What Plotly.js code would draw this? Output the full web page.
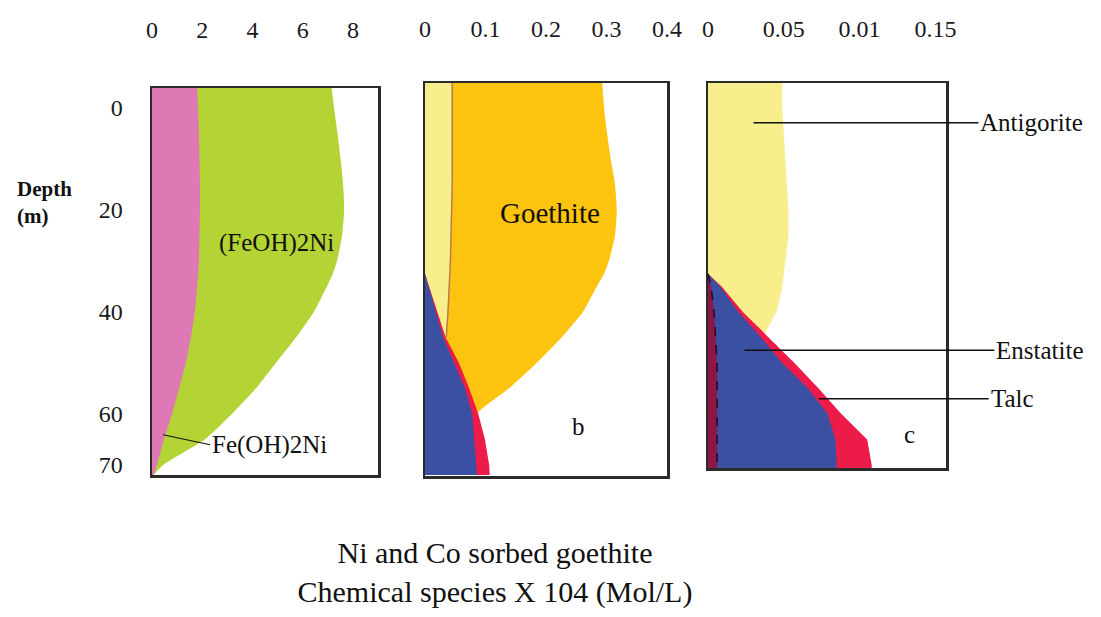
<!DOCTYPE html>
<html>
<head>
<meta charset="utf-8">
<script src="https://cdn.plot.ly/plotly-3.0.1.min.js"></script>
<style>html,body{margin:0;padding:0;background:#fff;}#chart{width:1101px;height:617px;}</style>
</head>
<body>
<div id="chart"></div>
<script>
// Depth (m) samples shared by every profile
const depth = [-5, 0, 5, 10, 15, 20, 25, 30, 32.5, 35, 40, 45, 50, 55, 60, 65, 70, 72];

// Panel a (x 10^4 mol/L, cumulative boundaries)
const feOH2Ni_a   = [1.79, 1.83, 1.87, 1.89, 1.91, 1.91, 1.89, 1.87, 1.84, 1.80, 1.71, 1.55, 1.35, 1.08, 0.80, 0.48, 0.20, 0.06];
const feOH2NiB_a  = [7.13, 7.25, 7.39, 7.51, 7.61, 7.65, 7.57, 7.37, 7.20, 6.97, 6.45, 5.74, 4.94, 4.14, 3.19, 2.11, 0.46, 0.06];

// Panel b
const antigorite_b = [0.045, 0.045, 0.045, 0.045, 0.045, 0.044, 0.043, 0.042, 0.041, 0.040, 0.038, 0.035, 0.045, 0.060, 0.075, 0.075, 0.075, 0.075];
const goethite_b   = [0.293, 0.296, 0.301, 0.307, 0.314, 0.317, 0.314, 0.304, 0.296, 0.284, 0.261, 0.226, 0.185, 0.139, 0.086, 0.075, 0.075, 0.075];
const enstatite_b  = [0, 0, 0, 0, 0, 0, 0, 0, 0, 0.006, 0.018, 0.030, 0.048, 0.066, 0.078, 0.081, 0.084, 0.086];
const talc_b       = [0, 0, 0, 0, 0, 0, 0, 0, 0, 0.007, 0.020, 0.034, 0.056, 0.073, 0.088, 0.099, 0.106, 0.107];

// Panel c
const antigorite_c = [0.049, 0.049, 0.050, 0.051, 0.052, 0.053, 0.053, 0.051, 0.050, 0.049, 0.045, 0.036, 0.030, 0.030, 0.030, 0.030, 0.030, 0.030];
const maroon_c     = [0, 0, 0, 0, 0, 0, 0, 0, 0, 0.002, 0.004, 0.005, 0.006, 0.006, 0.006, 0.006, 0.006, 0.006];
const enstatite_c  = [0, 0, 0, 0, 0, 0, 0, 0, 0, 0.008, 0.020, 0.035, 0.049, 0.066, 0.079, 0.084, 0.085, 0.085];
const talc_c       = [0, 0, 0, 0, 0, 0, 0, 0, 0, 0.009, 0.023, 0.040, 0.057, 0.073, 0.088, 0.105, 0.108, 0.108];

// Tick labels
const ticksA = [0, 2, 4, 6, 8];
const ticksB = [0, 0.1, 0.2, 0.3, 0.4];
const ticksC = [0, 0.05, 0.1, 0.15];
const ticksCText = ['0', '0.05', '0.01', '0.15'];
const depthTicks = [0, 20, 40, 60, 70];

const SERIF = 'Liberation Serif, Times New Roman, serif';
const C = {green:'#b4d334', pink:'#de79b5', yellow:'#f8ee8c', orange:'#fdc40f', blue:'#3b50a3', red:'#ec1b47', maroon:'#8a1745', brown:'#b97a4e'};

// keep only the part of a profile where it is present (from the last zero before it starts)
function present(vals) {
  let s = 0;
  while (s < vals.length - 1 && vals[s + 1] === 0) s++;
  return {x: vals.slice(s), y: depth.slice(s)};
}

function area(vals, xa, ya, color, name, shape, lineOpts) {
  const p = present(vals);
  return {x: p.x, y: p.y, xaxis: xa, yaxis: ya, type: 'scatter', mode: 'lines', name: name,
    fill: 'tozerox', fillcolor: color,
    line: Object.assign({width: 0, color: color, shape: shape || 'spline', smoothing: 0.6}, lineOpts || {}),
    hoverinfo: 'skip'};
}

const idx45 = depth.indexOf(45);
const traces = [
  area(feOH2NiB_a, 'x', 'y', C.green, '(FeOH)2Ni'),
  area(feOH2Ni_a, 'x', 'y', C.pink, 'Fe(OH)2Ni'),

  area(goethite_b, 'x2', 'y2', C.orange, 'Goethite'),
  area(antigorite_b, 'x2', 'y2', C.yellow, 'Antigorite'),
  {x: antigorite_b.slice(0, idx45 + 1), y: depth.slice(0, idx45 + 1), xaxis: 'x2', yaxis: 'y2', type: 'scatter', mode: 'lines',
   line: {color: C.brown, width: 1.5, shape: 'spline', smoothing: 0.6}, hoverinfo: 'skip', name: 'boundary'},
  area(talc_b, 'x2', 'y2', C.red, 'Talc', 'linear'),
  area(enstatite_b, 'x2', 'y2', C.blue, 'Enstatite', 'linear'),

  area(antigorite_c, 'x3', 'y3', C.yellow, 'Antigorite'),
  area(talc_c, 'x3', 'y3', C.red, 'Talc', 'linear'),
  area(enstatite_c, 'x3', 'y3', C.blue, 'Enstatite', 'linear'),
  area(maroon_c, 'x3', 'y3', C.maroon, 'other', 'linear', {width: 1.5, color: '#2a0818', dash: 'dash'})
];

const tickFont = {family: SERIF, size: 24, color: '#1a1a1a'};
function xax(domain, range, tickvals, ticktext, anchor, standoff) {
  return {domain: domain, range: range, side: 'top', anchor: anchor, tickvals: tickvals, ticktext: ticktext,
    ticks: '', showgrid: false, zeroline: false, showline: true, mirror: true, linecolor: '#2b2b2b', linewidth: 2.5,
    tickfont: tickFont, ticklabelstandoff: standoff, fixedrange: true};
}
function yax(domain, range, anchor, show) {
  return {domain: domain, range: range, anchor: anchor, tickvals: depthTicks, showticklabels: show,
    ticks: '', showgrid: false, zeroline: false, showline: true, mirror: true, linecolor: '#2b2b2b', linewidth: 2.5,
    tickfont: tickFont, ticklabelstandoff: 22, fixedrange: true};
}
const W = 1101, H = 617;
const annFont = {family: SERIF, size: 25, color: '#111'};

const layout = {
  width: W, height: H, margin: {l: 0, r: 0, t: 0, b: 0},
  paper_bgcolor: '#fff', plot_bgcolor: 'rgba(0,0,0,0)', showlegend: false,
  title: {text: 'Ni and Co sorbed goethite<br>Chemical species X 104 (Mol/L)', x: 495 / W, xanchor: 'center',
          y: 1 - 563 / H, yanchor: 'middle', font: {family: SERIF, size: 30, color: '#111'}},
  xaxis: xax([152 / W, 378 / W], [0, 9], ticksA, null, 'y', 38),
  yaxis: yax([1 - 475 / H, 1 - 88 / H], [72.0, -3.9], 'x', true),
  xaxis2: xax([425 / W, 667 / W], [0, 0.4], ticksB, null, 'y2', 34),
  yaxis2: yax([1 - 476 / H, 1 - 83 / H], [72.2, -4.9], 'x2', false),
  xaxis3: xax([708 / W, 946 / W], [0, 0.157], ticksC, ticksCText, 'y3', 34),
  yaxis3: yax([1 - 468 / H, 1 - 83 / H], [70.6, -4.9], 'x3', false),
  annotations: [
    {xref: 'paper', yref: 'paper', x: 15 / W, y: 1 - 203 / H, xanchor: 'left', yanchor: 'middle', align: 'left',
     text: '<b>Depth</b><br><b>(m)</b>', showarrow: false, font: {family: SERIF, size: 21, color: '#111'}},
    {xref: 'x', yref: 'y', x: 4.95, y: 26.5, text: '(FeOH)2Ni', showarrow: false, font: annFont},
    {xref: 'x', yref: 'y', x: 0.44, y: 64.1, ax: 47, ay: 10, text: 'Fe(OH)2Ni', xanchor: 'left', showarrow: true,
     arrowhead: 0, arrowwidth: 1.2, arrowcolor: '#111', font: annFont},
    {xref: 'x2', yref: 'y2', x: 0.207, y: 20.6, text: 'Goethite', showarrow: false, font: {family: SERIF, size: 29, color: '#111'}},
    {xref: 'x2', yref: 'y2', x: 0.253, y: 62.5, text: 'b', showarrow: false, font: annFont},
    {xref: 'x3', yref: 'y3', x: 0.133, y: 64.1, text: 'c', showarrow: false, font: annFont},
    {xref: 'x3', yref: 'y3', x: 0.030, y: 2.9, ax: 225, ay: 0, text: 'Antigorite', xanchor: 'left', showarrow: true,
     arrowhead: 0, arrowwidth: 1.5, arrowcolor: '#111', font: annFont},
    {xref: 'x3', yref: 'y3', x: 0.024, y: 47.5, ax: 250, ay: 0, text: 'Enstatite', xanchor: 'left', showarrow: true,
     arrowhead: 0, arrowwidth: 1.5, arrowcolor: '#111', font: annFont},
    {xref: 'x3', yref: 'y3', x: 0.073, y: 57, ax: 170, ay: 0, text: 'Talc', xanchor: 'left', showarrow: true,
     arrowhead: 0, arrowwidth: 1.5, arrowcolor: '#111', font: annFont}
  ]
};

Plotly.newPlot('chart', traces, layout, {staticPlot: true, displayModeBar: false});
</script>
</body>
</html>
